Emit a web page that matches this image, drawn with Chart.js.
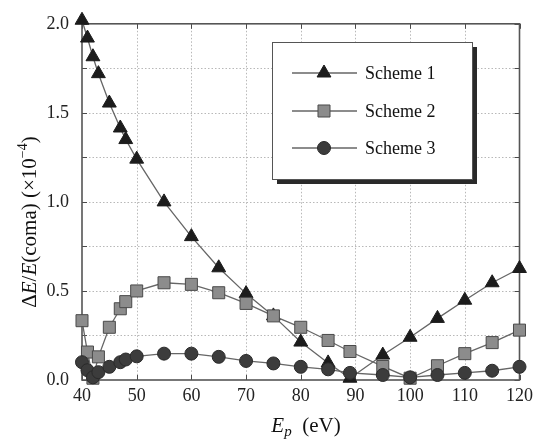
<!DOCTYPE html>
<html>
<head>
<meta charset="utf-8">
<script src="https://cdn.jsdelivr.net/npm/chart.js@4/dist/chart.umd.min.js"></script>
<style>
  html, body { margin: 0; padding: 0; background: #fff; }
  #wrap { width: 538px; height: 442px; position: relative; }
</style>
</head>
<body>
<div id="wrap"><canvas id="c"></canvas></div>
<script>
// Energía del primario (eV)
const energies = [40, 41, 42, 43, 45, 47, 48, 50, 55, 60, 65, 70, 75, 80, 85, 89, 95, 100, 105, 110, 115, 120];

// ΔE/E (coma) x 1e-4
const scheme1 = [2.02, 1.92, 1.815, 1.72, 1.555, 1.415, 1.35, 1.24, 1.0, 0.805, 0.63, 0.485, 0.36, 0.213, 0.096, 0.01, 0.14, 0.24, 0.346, 0.448, 0.546, 0.626];
const scheme2 = [0.333, 0.157, 0.01, 0.13, 0.296, 0.40, 0.44, 0.50, 0.546, 0.537, 0.49, 0.43, 0.36, 0.296, 0.222, 0.16, 0.076, 0.01, 0.08, 0.148, 0.21, 0.28];
const scheme3 = [0.10, 0.055, 0.015, 0.044, 0.074, 0.10, 0.115, 0.133, 0.148, 0.148, 0.13, 0.107, 0.093, 0.074, 0.06, 0.04, 0.028, 0.015, 0.028, 0.04, 0.052, 0.074];

const seriesNames = ['Scheme 1', 'Scheme 2', 'Scheme 3'];

const SERIF = '"Liberation Serif", "DejaVu Serif", serif';
const LINE = '#666';

function pts(vals) {
  return energies.map((e, i) => ({ x: e, y: vals[i] }));
}

// Rejilla punteada, marco y marcas hacia dentro
const framePlugin = {
  id: 'frame',
  beforeDatasetsDraw(chart) {
    const { ctx, chartArea: a, scales } = chart;
    ctx.save();
    // rejilla
    ctx.strokeStyle = '#b8b8b8';
    ctx.lineWidth = 1;
    ctx.setLineDash([1.5, 2]);
    scales.x.ticks.forEach(t => {
      if (t.value % 10 !== 0 || t.value === 40 || t.value === 120) return;
      const px = Math.round(scales.x.getPixelForValue(t.value)) + 0.5;
      ctx.beginPath(); ctx.moveTo(px, a.top); ctx.lineTo(px, a.bottom); ctx.stroke();
    });
    scales.y.ticks.forEach(t => {
      if (t.value <= 0 || t.value >= 2) return;
      const py = Math.round(scales.y.getPixelForValue(t.value)) + 0.5;
      ctx.beginPath(); ctx.moveTo(a.left, py); ctx.lineTo(a.right, py); ctx.stroke();
    });
    ctx.setLineDash([]);
    // marcas
    ctx.strokeStyle = '#4a4a4a';
    scales.x.ticks.forEach(t => {
      const px = Math.round(scales.x.getPixelForValue(t.value)) + 0.5;
      ctx.beginPath();
      ctx.moveTo(px, a.bottom); ctx.lineTo(px, a.bottom - 5);
      ctx.moveTo(px, a.top); ctx.lineTo(px, a.top + 5);
      ctx.stroke();
    });
    scales.y.ticks.forEach(t => {
      const py = Math.round(scales.y.getPixelForValue(t.value)) + 0.5;
      ctx.beginPath();
      ctx.moveTo(a.left, py); ctx.lineTo(a.left + 5, py);
      ctx.moveTo(a.right, py); ctx.lineTo(a.right - 5, py);
      ctx.stroke();
    });
    ctx.lineWidth = 1.6;
    ctx.strokeStyle = '#555';
    ctx.strokeRect(a.left, a.top, a.right - a.left, a.bottom - a.top);
    ctx.restore();
  }
};

// Leyenda con sombra
const legendPlugin = {
  id: 'boxLegend',
  afterDraw(chart) {
    const { ctx } = chart;
    const x0 = 272, y0 = 42, w = 200, h = 137;
    ctx.save();
    ctx.fillStyle = '#2a2a2a';
    ctx.fillRect(x0 + 5, y0 + 5, w, h);
    ctx.fillStyle = '#fff';
    ctx.fillRect(x0, y0, w, h);
    ctx.strokeStyle = '#555';
    ctx.lineWidth = 1;
    ctx.strokeRect(x0 + 0.5, y0 + 0.5, w, h);
    const rows = [73, 111, 148];
    chart.data.datasets.forEach((ds, i) => {
      const y = rows[i];
      ctx.strokeStyle = LINE;
      ctx.lineWidth = 1.3;
      ctx.beginPath();
      ctx.moveTo(292, y); ctx.lineTo(357, y);
      ctx.stroke();
      ctx.fillStyle = ds.pointBackgroundColor;
      ctx.strokeStyle = ds.pointBorderColor;
      ctx.lineWidth = 1;
      Chart.helpers.drawPoint(ctx, { pointStyle: ds.pointStyle, radius: ds.pointRadius, rotation: 0, borderWidth: 1 }, 324, y);
      ctx.fillStyle = '#111';
      ctx.font = '18px ' + SERIF;
      ctx.textBaseline = 'middle';
      ctx.textAlign = 'left';
      ctx.fillText(ds.label, 365, y + 1);
    });
    ctx.restore();
  }
};

// Títulos de los ejes con cursiva
function drawRuns(ctx, runs, x, y) {
  let cx = x;
  runs.forEach(r => {
    ctx.font = r.font;
    ctx.fillText(r.t, cx, y + (r.dy || 0));
    cx += ctx.measureText(r.t).width;
  });
}
function runsWidth(ctx, runs) {
  let w = 0;
  runs.forEach(r => { ctx.font = r.font; w += ctx.measureText(r.t).width; });
  return w;
}

const titlesPlugin = {
  id: 'axisTitles',
  afterDraw(chart) {
    const { ctx } = chart;
    const n = '21px ' + SERIF, it = 'italic 21px ' + SERIF, sm = '14px ' + SERIF;
    ctx.save();
    ctx.fillStyle = '#111';
    ctx.textBaseline = 'alphabetic';
    // eje y
    const yRuns = [
      { t: 'Δ', font: n }, { t: 'E', font: it }, { t: '/', font: n }, { t: 'E', font: it },
      { t: '(coma) (×10', font: n }, { t: '−4', font: sm, dy: -9 }, { t: ')', font: n }
    ];
    const yw = runsWidth(ctx, yRuns);
    ctx.translate(36, 222);
    ctx.rotate(-Math.PI / 2);
    drawRuns(ctx, yRuns, -yw / 2, 0);
    ctx.restore();
    // eje x
    ctx.save();
    ctx.fillStyle = '#111';
    const xRuns = [
      { t: 'E', font: it }, { t: 'p', font: 'italic 15px ' + SERIF, dy: 4 }, { t: '  (eV)', font: n }
    ];
    const xw = runsWidth(ctx, xRuns);
    drawRuns(ctx, xRuns, 306 - xw / 2, 432);
    ctx.restore();
  }
};

new Chart(document.getElementById('c'), {
  type: 'line',
  data: {
    datasets: [
      {
        label: seriesNames[0], data: pts(scheme1), order: 2,
        borderColor: LINE, borderWidth: 1.3,
        pointStyle: 'triangle', pointRadius: 8,
        pointBackgroundColor: '#1c1c1c', pointBorderColor: '#1c1c1c', pointBorderWidth: 1,
        clip: false
      },
      {
        label: seriesNames[1], data: pts(scheme2), order: 1,
        borderColor: LINE, borderWidth: 1.3,
        pointStyle: 'rect', pointRadius: 8.5,
        pointBackgroundColor: '#8c8c8c', pointBorderColor: '#4a4a4a', pointBorderWidth: 1,
        clip: false
      },
      {
        label: seriesNames[2], data: pts(scheme3), order: 0,
        borderColor: LINE, borderWidth: 1.3,
        pointStyle: 'circle', pointRadius: 6.5,
        pointBackgroundColor: '#3c3c3c', pointBorderColor: '#2a2a2a', pointBorderWidth: 1,
        clip: false
      }
    ]
  },
  options: {
    responsive: true,
    maintainAspectRatio: false,
    animation: false,
    layout: { padding: { left: 0, top: 20, right: 11, bottom: 0 } },
    plugins: { legend: { display: false }, tooltip: { enabled: false } },
    scales: {
      x: {
        type: 'linear', min: 40, max: 120,
        afterFit: s => { s.height = 62; },
        ticks: {
          stepSize: 5, padding: 5, color: '#222', maxRotation: 0,
          font: { family: SERIF, size: 18 },
          callback: v => (v % 10 === 0 ? String(v) : '')
        },
        grid: { display: false, drawTicks: false },
        border: { display: false }
      },
      y: {
        min: 0, max: 2,
        afterFit: s => { s.width = 82; },
        ticks: {
          stepSize: 0.25, padding: 13, color: '#222',
          font: { family: SERIF, size: 18 },
          callback: v => (Math.abs(v * 2 - Math.round(v * 2)) < 1e-6 ? v.toFixed(1) : '')
        },
        grid: { display: false, drawTicks: false },
        border: { display: false }
      }
    }
  },
  plugins: [framePlugin, legendPlugin, titlesPlugin]
});
</script>
</body>
</html>
